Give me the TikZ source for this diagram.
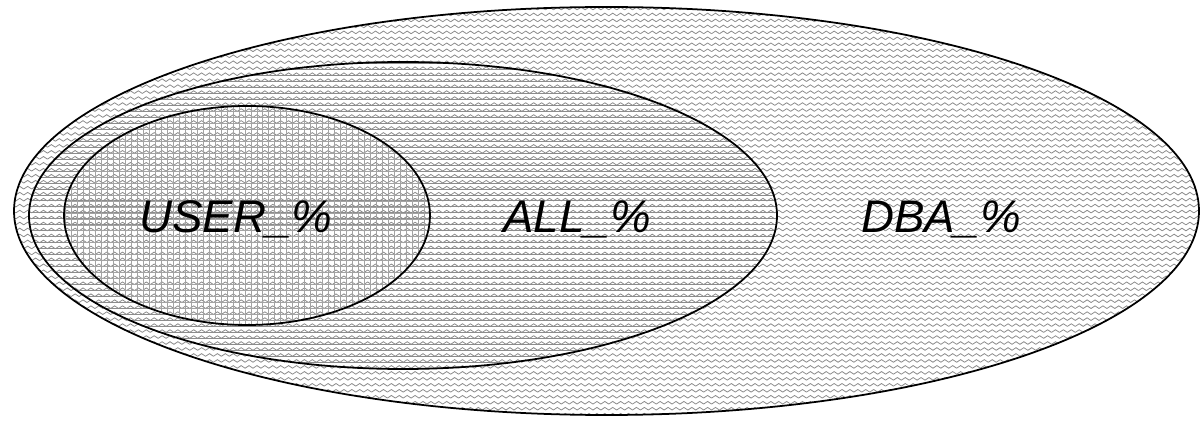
\documentclass[tikz,border=0pt]{standalone}
\usepackage{fontspec}
\setmainfont{Liberation Sans}
\usepackage{tikz}
\usetikzlibrary{patterns}
\definecolor{HatchGray}{HTML}{8C8C8C}
% zigzag fill of the outer set
\pgfdeclarepatternformonly{zigzag}{\pgfqpoint{-0.5pt}{-0.5pt}}{\pgfqpoint{5pt}{2.2pt}}{\pgfqpoint{4.5pt}{3.4pt}}{%
  \pgfsetlinewidth{0.45pt}
  \pgfpathmoveto{\pgfqpoint{0pt}{0pt}}
  \pgfpathlineto{\pgfqpoint{2.25pt}{1.5pt}}
  \pgfpathlineto{\pgfqpoint{4.5pt}{0pt}}
  \pgfusepath{stroke}}
\pgfdeclarepatternformonly{hlines}{\pgfqpoint{-1pt}{-1pt}}{\pgfqpoint{10pt}{1pt}}{\pgfqpoint{10pt}{3.4pt}}{%
  \pgfsetlinewidth{0.55pt}
  \pgfpathmoveto{\pgfqpoint{-0.5pt}{0pt}}
  \pgfpathlineto{\pgfqpoint{10.5pt}{0pt}}
  \pgfusepath{stroke}}
\pgfdeclarepatternformonly{fgrid}{\pgfqpoint{-1pt}{-1pt}}{\pgfqpoint{4pt}{4pt}}{\pgfqpoint{3.4pt}{3.4pt}}{%
  \pgfsetlinewidth{0.4pt}
  \pgfpathmoveto{\pgfqpoint{-0.5pt}{0pt}}
  \pgfpathlineto{\pgfqpoint{3.9pt}{0pt}}
  \pgfpathmoveto{\pgfqpoint{0pt}{-0.5pt}}
  \pgfpathlineto{\pgfqpoint{0pt}{3.9pt}}
  \pgfusepath{stroke}}
\tikzset{
  setline/.style={draw=black,line width=1pt},
  setlabel/.style={font=\fontsize{26}{30}\selectfont\itshape,anchor=base}
}

\begin{document}
\begin{tikzpicture}[x=0.02cm,y=-0.02cm]
  \useasboundingbox (0,0) rectangle (1201,422);
  \fill[white] (0,0) rectangle (1201,422);
  % the three nested sets
  \draw[setline,pattern=zigzag,pattern color=HatchGray] (606.5,211) ellipse (592.5 and 204);
  \draw[setline,pattern=hlines,pattern color=HatchGray] (403,215.5) ellipse (374 and 153.5);
  \draw[setline,pattern=fgrid,pattern color=HatchGray!80] (247,215.5) ellipse (183 and 109.5);
  \node[setlabel] (user) at (236,233) {USER\_\%};
  \node[setlabel] (all) at (577,233) {ALL\_\%};
  \node[setlabel] (dba) at (941,233) {DBA\_\%};
\end{tikzpicture}
\end{document}
